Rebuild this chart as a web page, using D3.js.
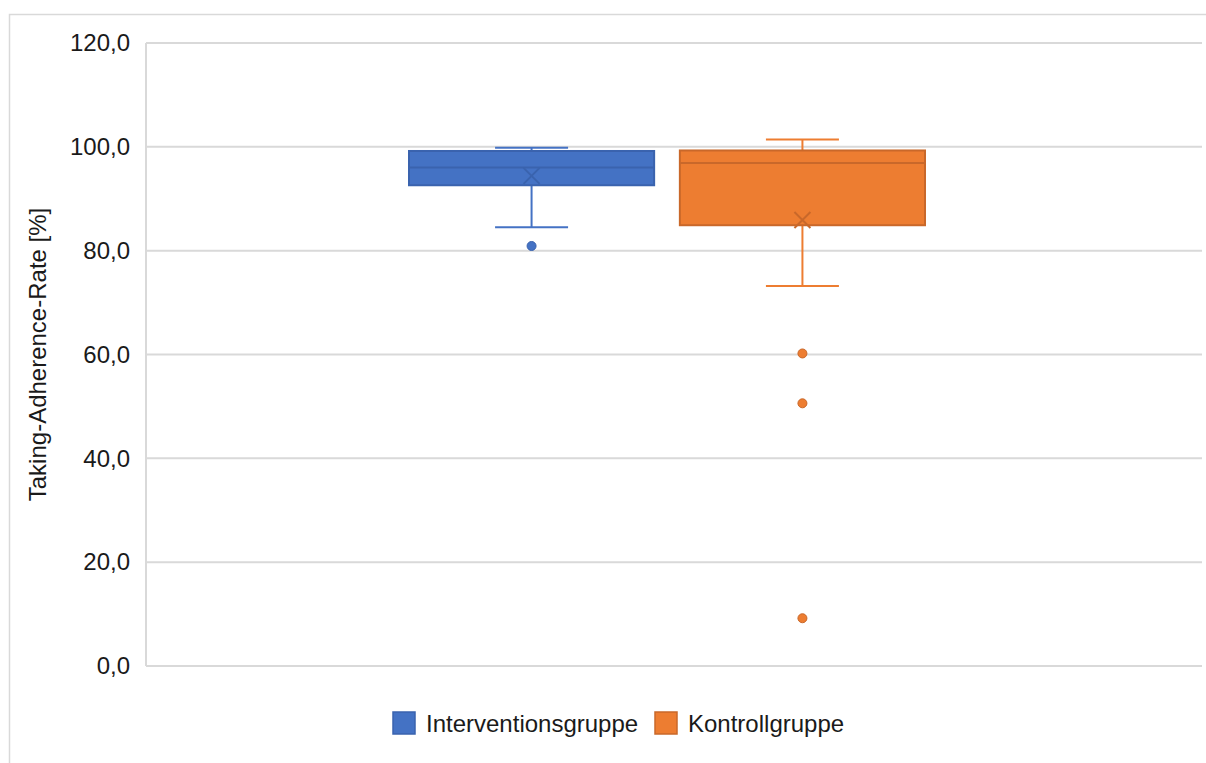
<!DOCTYPE html>
<html>
<head>
<meta charset="utf-8">
<script src="https://cdn.jsdelivr.net/npm/d3@7"></script>
<style>
  html, body { margin: 0; padding: 0; background: #fff; }
  svg { display: block; font-family: "Liberation Sans", Arial, sans-serif; }
</style>
</head>
<body>
<svg id="chart" width="1206" height="763"></svg>
<script>
// Groups and their box-plot statistics (Taking-Adherence-Rate in %)
const groups = ["Interventionsgruppe", "Kontrollgruppe"];
const whiskerLow = [84.5, 73.2];
const q1 = [92.6, 84.9];
const median = [96.0, 96.9];
const q3 = [99.2, 99.3];
const whiskerHigh = [99.8, 101.4];
const means = [94.4, 85.9];
const outliers = [[80.9], [60.2, 50.6, 9.2]];
const yTicks = [0, 20, 40, 60, 80, 100, 120];
const fills = ["#4472C4", "#ED7D31"];
const strokes = ["#3A63AE", "#C9682A"];
const yTitle = "Taking-Adherence-Rate [%]";

const svg = d3.select("#chart");
const plot = { left: 146, right: 1202, top: 43, bottom: 666 };
const fontSize = 24;

// outer chart frame (top and left edges visible)
svg.append("path")
  .attr("d", "M9.5,763 V14.5 H1206")
  .attr("fill", "none").attr("stroke", "#d9d9d9").attr("stroke-width", 1.5);

const y = d3.scaleLinear().domain([0, 120]).range([plot.bottom, plot.top]);
const x = d3.scaleBand().domain(groups).range([409, 925]).paddingInner(0.095);

// horizontal gridlines
svg.append("g").selectAll("line").data(yTicks).join("line")
  .attr("x1", plot.left).attr("x2", plot.right)
  .attr("y1", d => y(d)).attr("y2", d => y(d))
  .attr("stroke", "#d9d9d9").attr("stroke-width", 2);

// left edge of the plot area
svg.append("line")
  .attr("x1", plot.left).attr("x2", plot.left)
  .attr("y1", plot.top).attr("y2", plot.bottom)
  .attr("stroke", "#d9d9d9").attr("stroke-width", 2);

// y axis tick labels
const fmt = d => d3.format(".1f")(d).replace(".", ",");
const yAxis = d3.axisLeft(y).tickValues(yTicks).tickFormat(fmt).tickSize(0).tickPadding(16);
const ga = svg.append("g").attr("transform", `translate(${plot.left},0)`).call(yAxis);
ga.select(".domain").remove();
ga.selectAll("text").attr("font-size", fontSize).attr("fill", "#1a1a1a")
  .attr("font-family", "Liberation Sans, Arial, sans-serif");

// y axis title
svg.append("text")
  .attr("transform", `translate(46,${(plot.top + plot.bottom) / 2}) rotate(-90)`)
  .attr("text-anchor", "middle")
  .attr("font-size", fontSize).attr("fill", "#1a1a1a")
  .text(yTitle);

// boxes
groups.forEach((g, i) => {
  const x0 = x(g), bw = x.bandwidth(), cx = x0 + bw / 2;
  const capW = 73;
  const grp = svg.append("g");
  // whisker stems
  grp.append("line").attr("x1", cx).attr("x2", cx)
    .attr("y1", y(whiskerHigh[i])).attr("y2", y(q3[i]))
    .attr("stroke", fills[i]).attr("stroke-width", 2);
  grp.append("line").attr("x1", cx).attr("x2", cx)
    .attr("y1", y(q1[i])).attr("y2", y(whiskerLow[i]))
    .attr("stroke", fills[i]).attr("stroke-width", 2);
  // caps
  [whiskerHigh[i], whiskerLow[i]].forEach(v => {
    grp.append("line").attr("x1", cx - capW / 2).attr("x2", cx + capW / 2)
      .attr("y1", y(v)).attr("y2", y(v))
      .attr("stroke", fills[i]).attr("stroke-width", 2);
  });
  // box
  grp.append("rect")
    .attr("x", x0).attr("width", bw)
    .attr("y", y(q3[i])).attr("height", y(q1[i]) - y(q3[i]))
    .attr("fill", fills[i]).attr("stroke", strokes[i]).attr("stroke-width", 2);
  // median
  grp.append("line").attr("x1", x0).attr("x2", x0 + bw)
    .attr("y1", y(median[i])).attr("y2", y(median[i]))
    .attr("stroke", strokes[i]).attr("stroke-width", 2);
  // mean marker (x)
  const my = y(means[i]), s = 8;
  grp.append("path")
    .attr("d", `M${cx - s},${my - s}L${cx + s},${my + s}M${cx - s},${my + s}L${cx + s},${my - s}`)
    .attr("stroke", strokes[i]).attr("stroke-width", 2).attr("fill", "none");
  // outliers
  grp.selectAll("circle").data(outliers[i]).join("circle")
    .attr("cx", cx).attr("cy", d => y(d)).attr("r", 4.5)
    .attr("fill", fills[i]).attr("stroke", strokes[i]).attr("stroke-width", 1);
});

// legend
const legendX = [393, 655];
const lg = svg.append("g");
groups.forEach((g, i) => {
  lg.append("rect").attr("x", legendX[i]).attr("y", 712).attr("width", 22).attr("height", 22)
    .attr("fill", fills[i]).attr("stroke", strokes[i]).attr("stroke-width", 1.5);
  lg.append("text").attr("x", legendX[i] + 33).attr("y", 723)
    .attr("dominant-baseline", "central")
    .attr("font-size", fontSize).attr("fill", "#1a1a1a").text(g);
});
</script>
</body>
</html>
